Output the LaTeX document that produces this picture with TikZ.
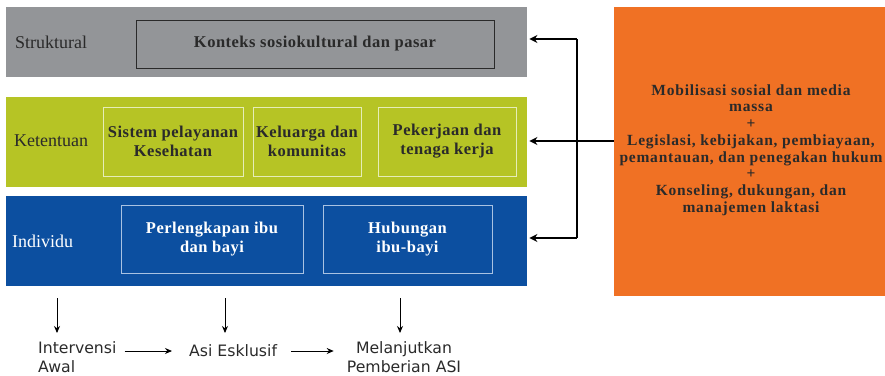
\documentclass[tikz,border=0pt]{standalone}
\usepackage{fontspec}
\setmainfont{Liberation Serif}
\newfontfamily\boxfont[LetterSpace=3]{Liberation Serif}
\newfontfamily\orfont[LetterSpace=5]{Liberation Serif}
\newfontfamily\bottomfont{DejaVu Sans}
\usetikzlibrary{arrows.meta}
\definecolor{grayband}{HTML}{939598}
\definecolor{greenband}{HTML}{B6C425}
\definecolor{blueband}{HTML}{0C4FA0}
\definecolor{orangebox}{HTML}{F07124}
\definecolor{darktext}{HTML}{2A2A2A}
\definecolor{greenline}{HTML}{E6EDB8}
\definecolor{blueline}{HTML}{A9C2E2}
\tikzset{
  band/.style={draw=none, inner sep=0pt, anchor=north west},
  bandlabel/.style={anchor=west, inner sep=0pt, font=\fontsize{18}{20}\selectfont},
  innerbox/.style={inner sep=0pt, align=center, font=\boxfont\bfseries\fontsize{16.5}{19}\selectfont},
  bigarrow/.style={line width=2.4pt, -{Stealth[length=8pt,width=8pt]}},
  bigline/.style={line width=2.4pt},
  smallarrow/.style={line width=0.9pt, -{Stealth[length=7pt,width=6pt]}},
  bottomtext/.style={inner sep=0pt, font=\bottomfont\fontsize{15.7}{19.5}\selectfont, text=darktext}
}
\begin{document}
\begin{tikzpicture}[x=1pt,y=-1pt]
\useasboundingbox (0,0) rectangle (885,375);
% bands
\node[band, fill=grayband, minimum width=521pt, minimum height=70pt] (sb) at (6,7) {};
\node[band, fill=greenband, minimum width=521pt, minimum height=90pt] (gb) at (6,97) {};
\node[band, fill=blueband, minimum width=521pt, minimum height=90pt] (bb) at (6,196) {};
% labels
\node[bandlabel, text=darktext] (sl) at (15,42) {Struktural};
\node[bandlabel, text=darktext] (gl) at (14,141) {Ketentuan};
\node[bandlabel, text=white] (bl) at (12,241) {Individu};
% inner boxes
\node[innerbox, draw=darktext, line width=0.7pt, text=darktext, minimum width=358pt, minimum height=48pt] (k1) at (315,44) {Konteks sosiokultural dan pasar};
\node[innerbox, draw=greenline, line width=0.9pt, text=darktext, minimum width=140pt, minimum height=69pt] (g1) at (173,141.5) {Sistem pelayanan\\Kesehatan};
\node[innerbox, draw=greenline, line width=0.9pt, text=darktext, minimum width=108pt, minimum height=69pt] (g2) at (307,141.5) {Keluarga dan\\komunitas};
\node[innerbox, draw=greenline, line width=0.9pt, text=darktext, minimum width=138pt, minimum height=69pt] (g3) at (447,141.5) {Pekerjaan dan\\tenaga kerja};
\node[innerbox, draw=blueline, line width=0.9pt, text=white, minimum width=182pt, minimum height=68pt] (b1) at (212,239) {Perlengkapan ibu\\dan bayi};
\node[innerbox, draw=blueline, line width=0.9pt, text=white, minimum width=169pt, minimum height=68pt] (b2) at (407.5,239) {Hubungan\\ibu-bayi};
% orange box
\node[band, fill=orangebox, minimum width=271pt, minimum height=289pt] (ob) at (614,7) {};
\node[innerbox, text=darktext, font=\orfont\bfseries\fontsize{15.5}{16.7}\selectfont] (ot) at (751,150) {Mobilisasi sosial dan media\\massa\\+\\Legislasi, kebijakan, pembiayaan,\\pemantauan, dan penegakan hukum\\+\\Konseling, dukungan, dan\\manajemen laktasi};
% connectors
\coordinate (jt) at (577,39);
\coordinate (jm) at (577,141);
\coordinate (jb) at (577,238);
\draw[bigline] (jt) -- (jb);
\draw[bigarrow] (jt) -- ([xshift=2pt]sb.east |- jt);
\draw[bigarrow] (ob.west |- jm) -- ([xshift=2pt]gb.east |- jm);
\draw[bigarrow] (jb) -- ([xshift=2pt]bb.east |- jb);
% bottom
\node[bottomtext, anchor=north west, align=left] (iv) at (38,341) {Intervensi\\Awal};
\node[bottomtext, anchor=west] (ae) at (189,351) {Asi Esklusif};
\node[bottomtext, anchor=north, align=center] (ml) at (404,341) {Melanjutkan\\Pemberian ASI};
\coordinate (d1) at (57,298);
\coordinate (d2) at (225,298);
\coordinate (d3) at (400,298);
\draw[smallarrow] (d1) -- ++(0,35);
\draw[smallarrow] (d2) -- ++(0,35);
\draw[smallarrow] (d3) -- ++(0,35);
\draw[smallarrow] ([xshift=8pt]iv.east |- ae) -- ([xshift=-17pt]ae.west);
\draw[smallarrow] ([xshift=14pt]ae.east) -- ([xshift=-13pt]ml.west |- ae);
\end{tikzpicture}
\end{document}
